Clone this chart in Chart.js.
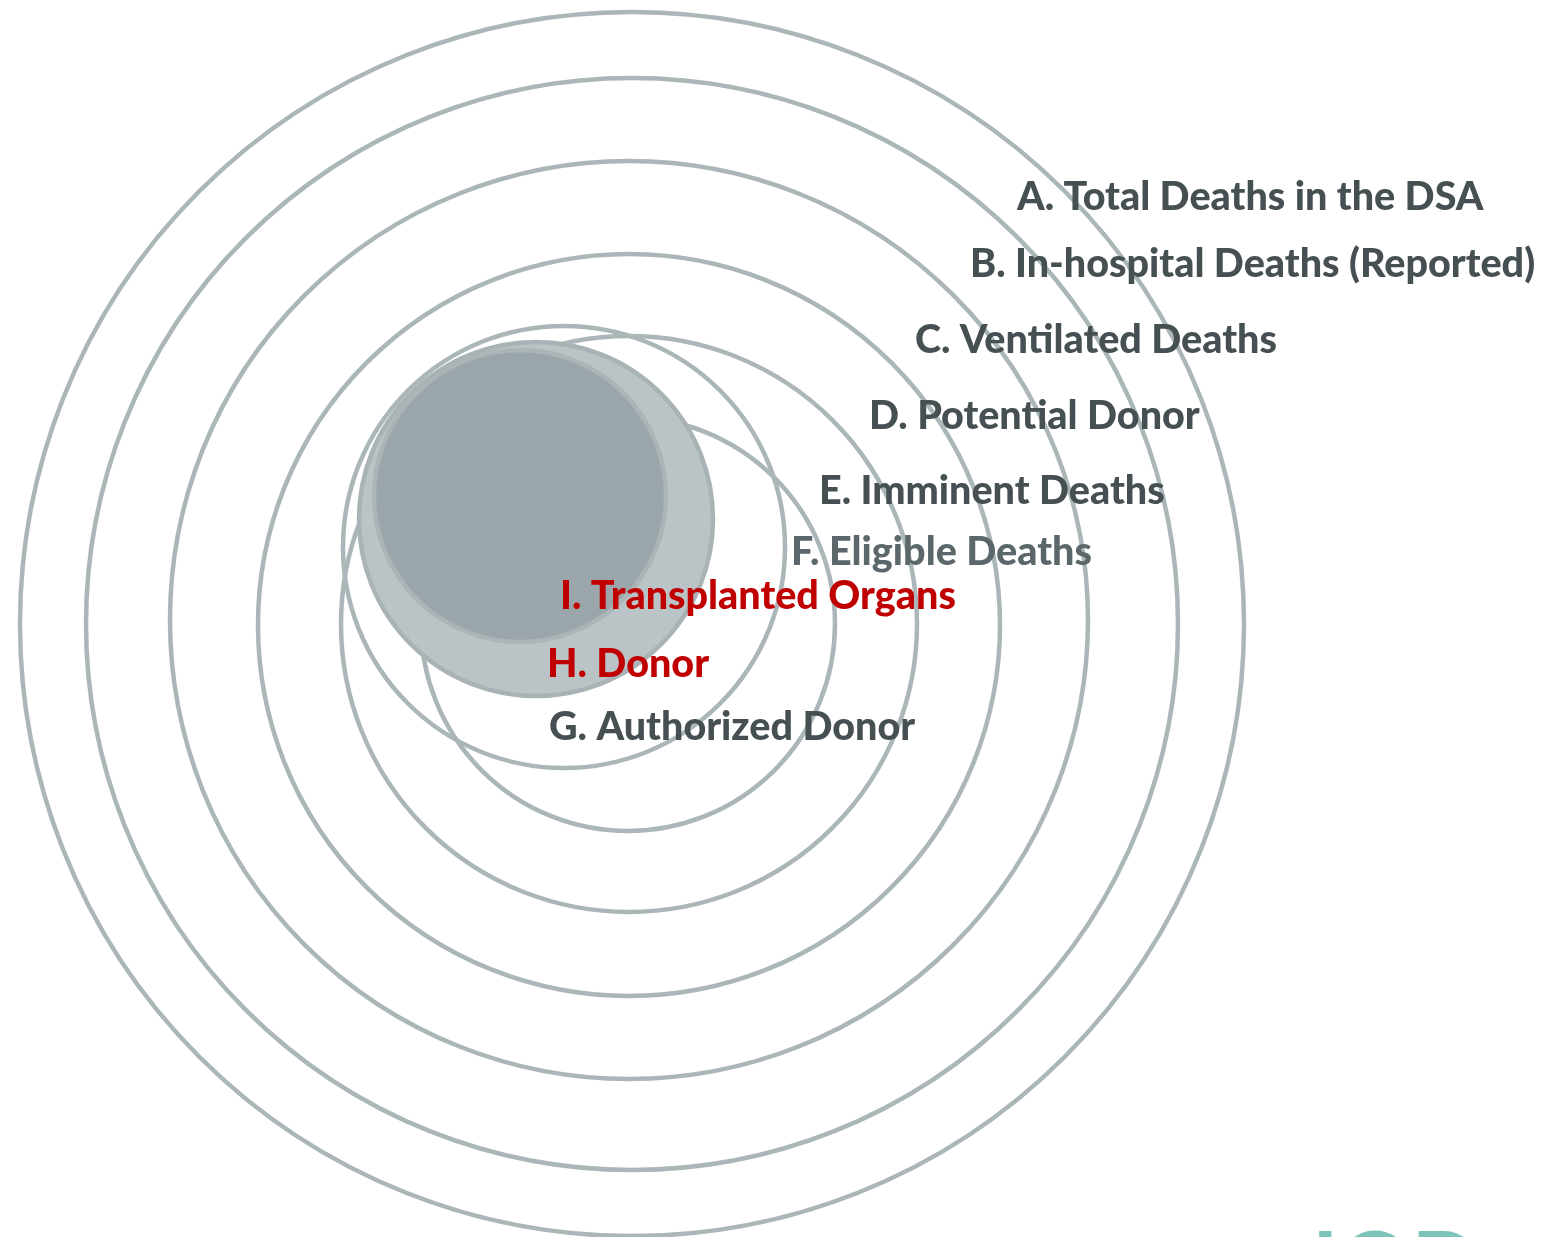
<!DOCTYPE html>
<html>
<head>
<meta charset="utf-8">
<script src="https://cdn.jsdelivr.net/npm/chart.js@4.4.1/dist/chart.umd.min.js"></script>
<style>
  html, body { margin: 0; padding: 0; background: #ffffff; }
  #wrap { position: relative; width: 1549px; height: 1237px; }
</style>
</head>
<body>
<div id="wrap"><canvas id="rings"></canvas></div>
<script>
// stages of the donation funnel, outermost first
const stages = [
  "A. Total Deaths in the DSA",
  "B. In-hospital Deaths (Reported)",
  "C. Ventilated Deaths",
  "D. Potential Donor",
  "E. Imminent Deaths",
  "F. Eligible Deaths",
  "G. Authorized Donor",
  "H. Donor",
  "I. Transplanted Organs"
];
// circle centre and radius for each stage (chart units)
const centerX = [632, 632, 629, 629, 629, 628, 564, 536, 520];
const centerY = [624, 624, 620, 625, 624, 624, 547, 519, 496];
const radius  = [612, 546, 459, 371, 288, 207, 221, 177, 146];
// where each stage label sits (left edge, middle)
const labelX = [1017, 970, 915, 869, 819, 791, 549, 547, 560];
const labelY = [197, 264, 340, 416, 491, 552, 727, 664, 596];

const ringLine = "#abb6b8";
const fills   = ["rgba(0,0,0,0)", "rgba(0,0,0,0)", "rgba(0,0,0,0)", "rgba(0,0,0,0)",
                 "rgba(0,0,0,0)", "rgba(0,0,0,0)", "rgba(0,0,0,0)", "#bac3c6", "#9ba6ab"];
const borders = [ringLine, ringLine, ringLine, ringLine, ringLine, ringLine, ringLine, "#a9b3b6", "#abb5b8"];
const textColors = ["#465053", "#465053", "#465053", "#465053", "#465053", "#5c676c",
                    "#465053", "#c00000", "#c00000"];

function pxRadius(ctx) {
  const s = ctx.chart.scales.x;
  return s.getPixelForValue(radius[ctx.dataIndex]) - s.getPixelForValue(0);
}

// stage names drawn next to their rings
const stageLabels = {
  id: "stageLabels",
  afterDatasetsDraw(chart) {
    const c = chart.ctx;
    const xs = chart.scales.x, ys = chart.scales.y;
    c.save();
    c.font = "900 39.5px Lato";
    c.textAlign = "left";
    c.textBaseline = "middle";
    stages.forEach((t, i) => {
      c.fillStyle = textColors[i];
      c.fillText(t, xs.getPixelForValue(labelX[i]), ys.getPixelForValue(labelY[i]));
    });
    // logo, cut off at the bottom edge
    c.fillStyle = "#7cc4b9";
    c.font = "bold 90px Lato";
    c.textBaseline = "top";
    c.fillText("IOD", xs.getPixelForValue(1312), ys.getPixelForValue(1222));
    c.restore();
  }
};

new Chart(document.getElementById("rings"), {
  type: "scatter",
  data: {
    datasets: [{
      data: stages.map((s, i) => ({ x: centerX[i], y: centerY[i] })),
      pointRadius: pxRadius,
      pointHoverRadius: pxRadius,
      pointBackgroundColor: fills,
      pointBorderColor: borders,
      pointBorderWidth: 4.5,
      pointHoverBorderWidth: 4.5,
      clip: false
    }]
  },
  options: {
    responsive: true,
    maintainAspectRatio: false,
    animation: false,
    events: [],
    layout: { padding: 0 },
    plugins: { legend: { display: false }, tooltip: { enabled: false } },
    scales: {
      x: { type: "linear", min: 0, max: 1549, display: false },
      y: { type: "linear", min: 0, max: 1237, reverse: true, display: false }
    }
  },
  plugins: [stageLabels]
});
</script>
</body>
</html>
